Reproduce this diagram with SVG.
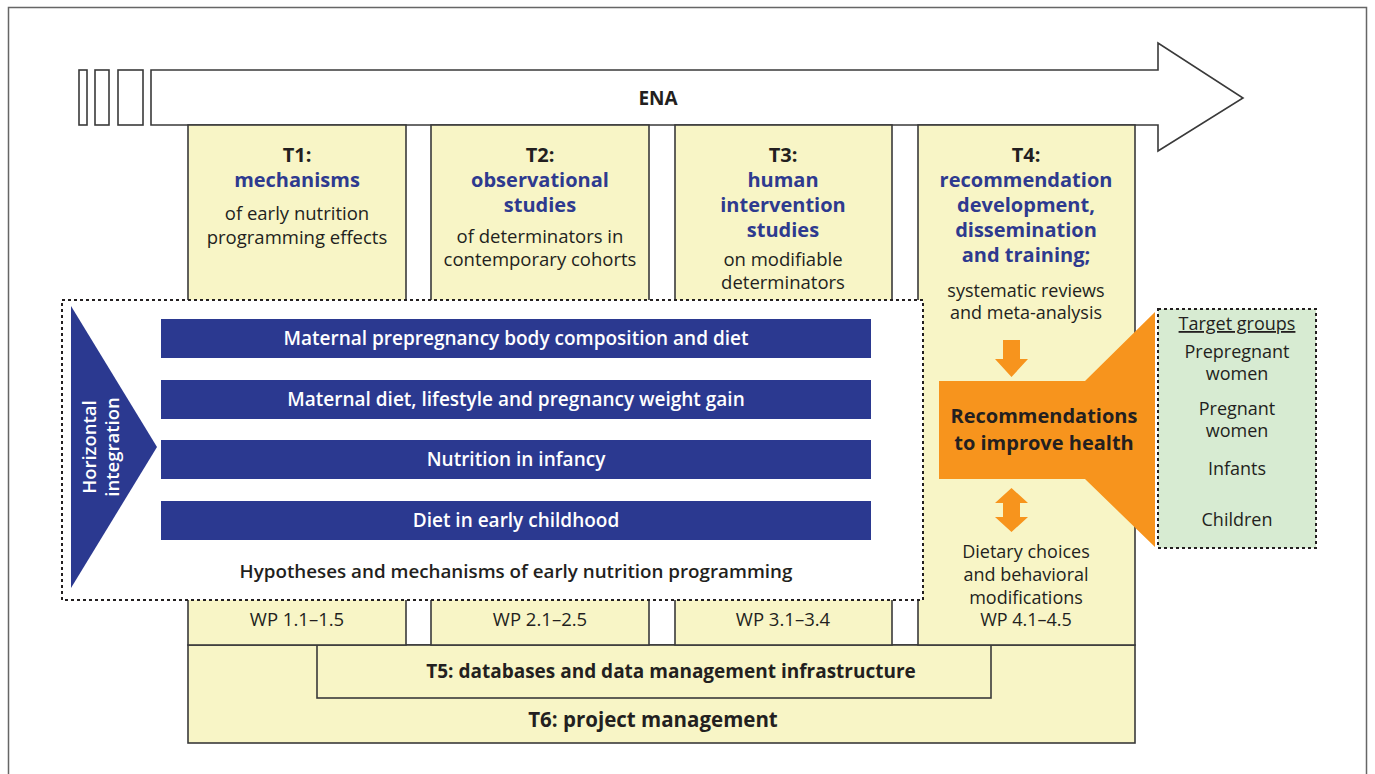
<svg xmlns="http://www.w3.org/2000/svg" width="1375" height="774" viewBox="0 0 1375 774">
<style>
text{font-family:"Open Sans","Noto Sans","Liberation Sans",sans-serif;text-anchor:middle;fill:#231f20}
.col{fill:#f8f5c6;stroke:#3a3a3a;stroke-width:1.6}
.out{fill:#fff;stroke:#3a3a3a;stroke-width:1.6}
.hd{font-size:20px;font-weight:700}
.bl{font-size:20px;font-weight:700;fill:#2e3a8f}
.tx{font-size:18.5px}
.sm{font-size:18px}
.bar{fill:#2b3990}
.bt{font-size:19px;font-weight:600;fill:#fff}
.vt{font-size:18.5px;font-weight:600;fill:#fff}
.dot{stroke:#231f20;stroke-width:2;stroke-dasharray:3 3}
.or{fill:#f7941d}
.tg{font-size:18px}
</style>
<rect x="8.5" y="7.5" width="1358" height="790" fill="#fff" stroke="#666" stroke-width="1.5"/>

<g id="ena-arrow">
<rect class="out" x="79" y="70" width="8" height="55"/>
<rect class="out" x="95" y="70" width="14" height="55"/>
<rect class="out" x="118" y="70" width="25" height="55"/>
<path class="out" d="M151 70 H1158 V43 L1243 98 L1158 151 V125 H151 Z"/>
<text x="658" y="105" style="font-size:19px;font-weight:700">ENA</text>
</g>

<g id="T6">
<rect class="col" x="188" y="645" width="947" height="98"/>
<text x="653" y="727" class="hd" style="font-size:20.5px">T6: project management</text>
</g>
<g id="T5">
<rect class="col" x="317" y="645" width="674" height="53"/>
<text x="671" y="678" class="hd" style="font-size:19px">T5: databases and data management infrastructure</text>
</g>

<g id="T1">
<rect class="col" x="188" y="125" width="218" height="520"/>
<text x="297" y="162" class="hd">T1:</text>
<text x="297" y="187" class="bl">mechanisms</text>
<text x="297" y="220" class="tx">of early nutrition</text>
<text x="297" y="244" class="tx">programming effects</text>
<text x="297" y="626" class="tx">WP 1.1–1.5</text>
</g>
<g id="T2">
<rect class="col" x="431" y="125" width="218" height="520"/>
<text x="540" y="162" class="hd">T2:</text>
<text x="540" y="187" class="bl">observational</text>
<text x="540" y="212" class="bl">studies</text>
<text x="540" y="243" class="tx">of determinators in</text>
<text x="540" y="266" class="tx">contemporary cohorts</text>
<text x="540" y="626" class="tx">WP 2.1–2.5</text>
</g>
<g id="T3">
<rect class="col" x="675" y="125" width="217" height="520"/>
<text x="783" y="162" class="hd">T3:</text>
<text x="783" y="187" class="bl">human</text>
<text x="783" y="212" class="bl">intervention</text>
<text x="783" y="237" class="bl">studies</text>
<text x="783" y="266" class="tx">on modifiable</text>
<text x="783" y="289" class="tx">determinators</text>
<text x="783" y="626" class="tx">WP 3.1–3.4</text>
</g>
<g id="T4">
<rect class="col" x="918" y="125" width="217" height="520"/>
<text x="1026" y="162" class="hd">T4:</text>
<text x="1026" y="187" class="bl">recommendation</text>
<text x="1026" y="212" class="bl">development,</text>
<text x="1026" y="237" class="bl">dissemination</text>
<text x="1026" y="262" class="bl">and training;</text>
<text x="1026" y="297" class="sm">systematic reviews</text>
<text x="1026" y="319" class="sm">and meta-analysis</text>
<text x="1026" y="558" class="sm">Dietary choices</text>
<text x="1026" y="581" class="sm">and behavioral</text>
<text x="1026" y="604" class="sm">modifications</text>
<text x="1026" y="626" class="sm">WP 4.1–4.5</text>
</g>

<g id="horizontal-integration">
<rect x="62" y="300" width="861" height="300" fill="#fff" class="dot"/>
<path class="bar" d="M71 306 L157 447 L71 588 Z"/>
<text transform="translate(96 447) rotate(-90)" class="vt">Horizontal</text>
<text transform="translate(119 447) rotate(-90)" class="vt">integration</text>
<rect class="bar" x="161" y="319" width="710" height="39"/>
<text x="516" y="345" class="bt">Maternal prepregnancy body composition and diet</text>
<rect class="bar" x="161" y="380" width="710" height="39"/>
<text x="516" y="406" class="bt">Maternal diet, lifestyle and pregnancy weight gain</text>
<rect class="bar" x="161" y="440" width="710" height="39"/>
<text x="516" y="466" class="bt">Nutrition in infancy</text>
<rect class="bar" x="161" y="501" width="710" height="39"/>
<text x="516" y="527" class="bt">Diet in early childhood</text>
<text x="516" y="578" style="font-size:18.8px;font-weight:600">Hypotheses and mechanisms of early nutrition programming</text>
</g>

<g id="recommendations">
<path class="or" d="M939 381 H1085 L1155 312 V547 L1085 479 H939 Z"/>
<text x="1044" y="423" class="hd">Recommendations</text>
<text x="1044" y="450" class="hd">to improve health</text>
</g>

<g id="connectors">
<path class="or" d="M1003 340 H1020 V359 H1028 L1011.5 377 L995 359 H1003 Z"/>
<path class="or" d="M1011.5 488 L1028 503 H1020 V517 H1028 L1011.5 532 L995 517 H1003 V503 H995 Z"/>
</g>

<g id="target-groups">
<rect x="1158" y="309" width="158" height="239" fill="#d7ebd2" class="dot"/>
<text x="1237" y="330" class="tg" text-decoration="underline">Target groups</text>
<text x="1237" y="358" class="tg">Prepregnant</text>
<text x="1237" y="380" class="tg">women</text>
<text x="1237" y="415" class="tg">Pregnant</text>
<text x="1237" y="437" class="tg">women</text>
<text x="1237" y="475" class="tg">Infants</text>
<text x="1237" y="526" class="tg">Children</text>
</g>
</svg>
